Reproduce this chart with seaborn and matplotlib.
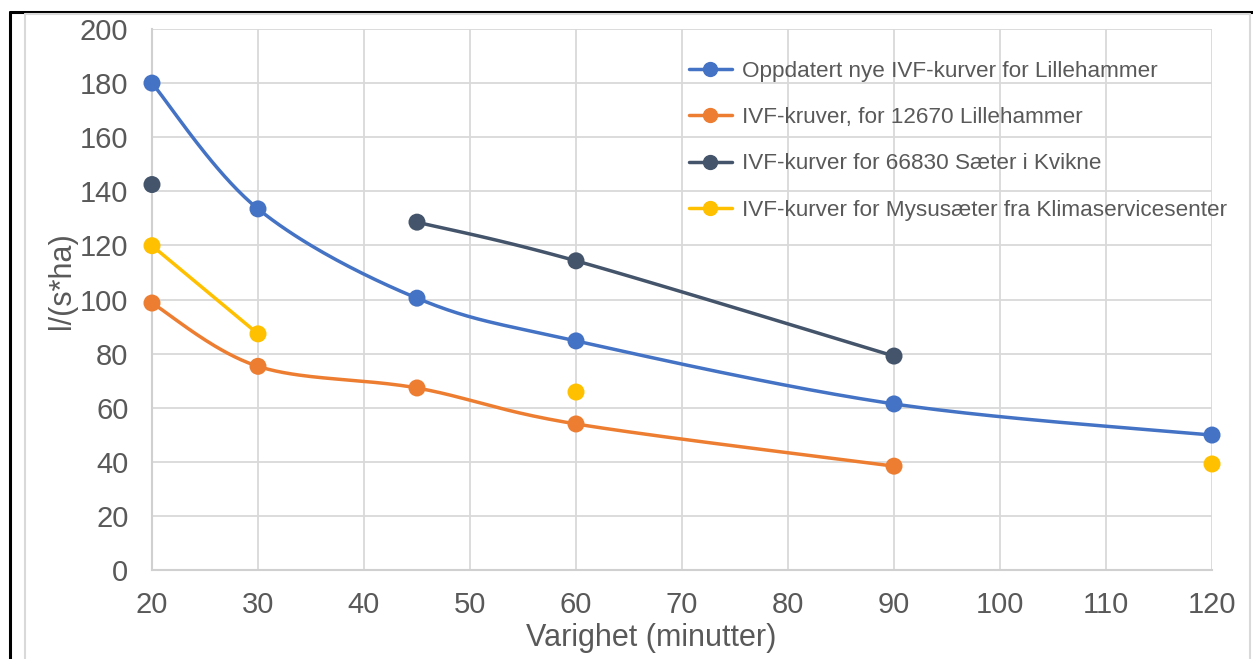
import numpy as np
import matplotlib
matplotlib.use("Agg")
import matplotlib.pyplot as plt
from matplotlib.lines import Line2D
import seaborn as sns
import pandas as pd

# ---- data ----
durations = [20, 30, 45, 60, 90, 120]
series_names = [
    "Oppdatert nye IVF-kurver for Lillehammer",
    "IVF-kruver, for 12670 Lillehammer",
    "IVF-kurver for 66830 Sæter i Kvikne",
    "IVF-kurver for Mysusæter fra Klimaservicesenter",
]
oppdatert = [180, 133.5, 100.5, 84.7, 61.4, 49.9]
lillehammer_12670 = [98.7, 75.3, 67.3, 54.0, 38.4, np.nan]
saeter_66830 = [142.5, np.nan, 128.6, 114.3, 79.1, np.nan]
mysusaeter = [119.9, 87.3, np.nan, 65.8, np.nan, 39.2]
colors = ["#4472C4", "#ED7D31", "#44546A", "#FFC000"]
x_ticks = list(range(20, 121, 10))
y_ticks = list(range(0, 201, 20))

all_series = [oppdatert, lillehammer_12670, saeter_66830, mysusaeter]

sns.set_theme(style="whitegrid")
plt.rcParams['font.family'] = ['Liberation Sans', 'DejaVu Sans']

fig = plt.figure(figsize=(12.53, 6.59), dpi=100)
ax = fig.add_axes([0.1213, 0.135, 0.9673 - 0.1213, 0.956 - 0.135])


def smooth_segment(xs, ys, n=40):
    # Excel-like smoothed line (Bezier with 1/6 tangents)
    xs = np.asarray(xs, float); ys = np.asarray(ys, float)
    P = np.column_stack([xs, ys])
    out = [P[0]]
    for i in range(len(P) - 1):
        p0 = P[i - 1] if i > 0 else P[i]
        p1 = P[i]; p2 = P[i + 1]
        p3 = P[i + 2] if i + 2 < len(P) else P[i + 1]
        c1 = p1 + (p2 - p0) / 6.0
        c2 = p2 - (p3 - p1) / 6.0
        t = np.linspace(0, 1, n)[1:, None]
        b = ((1 - t) ** 3) * p1 + 3 * ((1 - t) ** 2) * t * c1 + 3 * (1 - t) * t ** 2 * c2 + t ** 3 * p2
        out.extend(b)
    out = np.array(out)
    return out[:, 0], out[:, 1]


rows = []
for name, vals, col in zip(series_names, all_series, colors):
    run = []
    runs = []
    for x, v in zip(durations, vals):
        if np.isnan(v):
            if run:
                runs.append(run)
            run = []
        else:
            run.append((x, v))
    if run:
        runs.append(run)
    for r in runs:
        if len(r) > 1:
            sx, sy = smooth_segment([p[0] for p in r], [p[1] for p in r])
            ax.plot(sx, sy, color=col, lw=2.5, solid_capstyle='round', zorder=3, clip_on=False)
    for x, v in zip(durations, vals):
        if not np.isnan(v):
            rows.append({"x": x, "y": v, "s": name})

df = pd.DataFrame(rows)
sns.scatterplot(data=df, x="x", y="y", hue="s", palette=dict(zip(series_names, colors)),
                s=150, edgecolor="none", legend=False, ax=ax, zorder=4, clip_on=False)

ax.set_xlim(20, 120)
ax.set_ylim(0, 200)
ax.set_xticks(x_ticks)
ax.set_yticks(y_ticks)
ax.grid(True, color="#D9D9D9", lw=1.3)
for sp in ["top", "right"]:
    ax.spines[sp].set_visible(False)
for sp in ["left", "bottom"]:
    ax.spines[sp].set_color("#D0D0D0")
    ax.spines[sp].set_linewidth(1.5)
ax.tick_params(axis="both", length=0, labelsize=21, colors="#595959")
ax.tick_params(axis="y", pad=17)
ax.tick_params(axis="x", pad=15)
ax.set_xlabel("Varighet (minutter)", fontsize=22, color="#595959")
ax.set_ylabel("l/(s*ha)", fontsize=22, color="#595959")
ax.xaxis.set_label_coords(0.4712, -0.097)
ax.yaxis.set_label_coords(-0.0707, 0.535)

handles = [Line2D([0], [0], color=c, lw=2.5, marker="o", markersize=10) for c in colors]
leg = ax.legend(handles, series_names, loc="upper left", bbox_to_anchor=(0.5067, 0.9415),
                frameon=False, fontsize=16.2, labelspacing=1.13, handlelength=1.9,
                handletextpad=0.45, borderaxespad=0, borderpad=0)
for t in leg.get_texts():
    t.set_color("#595959")

# outer frames
fig.add_artist(Line2D([10 / 1253, 10 / 1253], [0, 1 - 12 / 659], color="black", lw=2.2,
                      transform=fig.transFigure))
fig.add_artist(Line2D([10 / 1253, 1], [1 - 12 / 659, 1 - 12 / 659], color="black", lw=2.2,
                      transform=fig.transFigure))
fig.add_artist(Line2D([25 / 1253, 25 / 1253], [0, 1 - 14 / 659], color="#D9D9D9", lw=1.5,
                      transform=fig.transFigure))
fig.add_artist(Line2D([1250 / 1253, 1250 / 1253], [0, 1 - 14 / 659], color="#D9D9D9", lw=1.5,
                      transform=fig.transFigure))
fig.add_artist(Line2D([25 / 1253, 1250 / 1253], [1 - 14 / 659, 1 - 14 / 659], color="#D9D9D9", lw=1.5,
                      transform=fig.transFigure))

fig.savefig("out.png", dpi=100)
